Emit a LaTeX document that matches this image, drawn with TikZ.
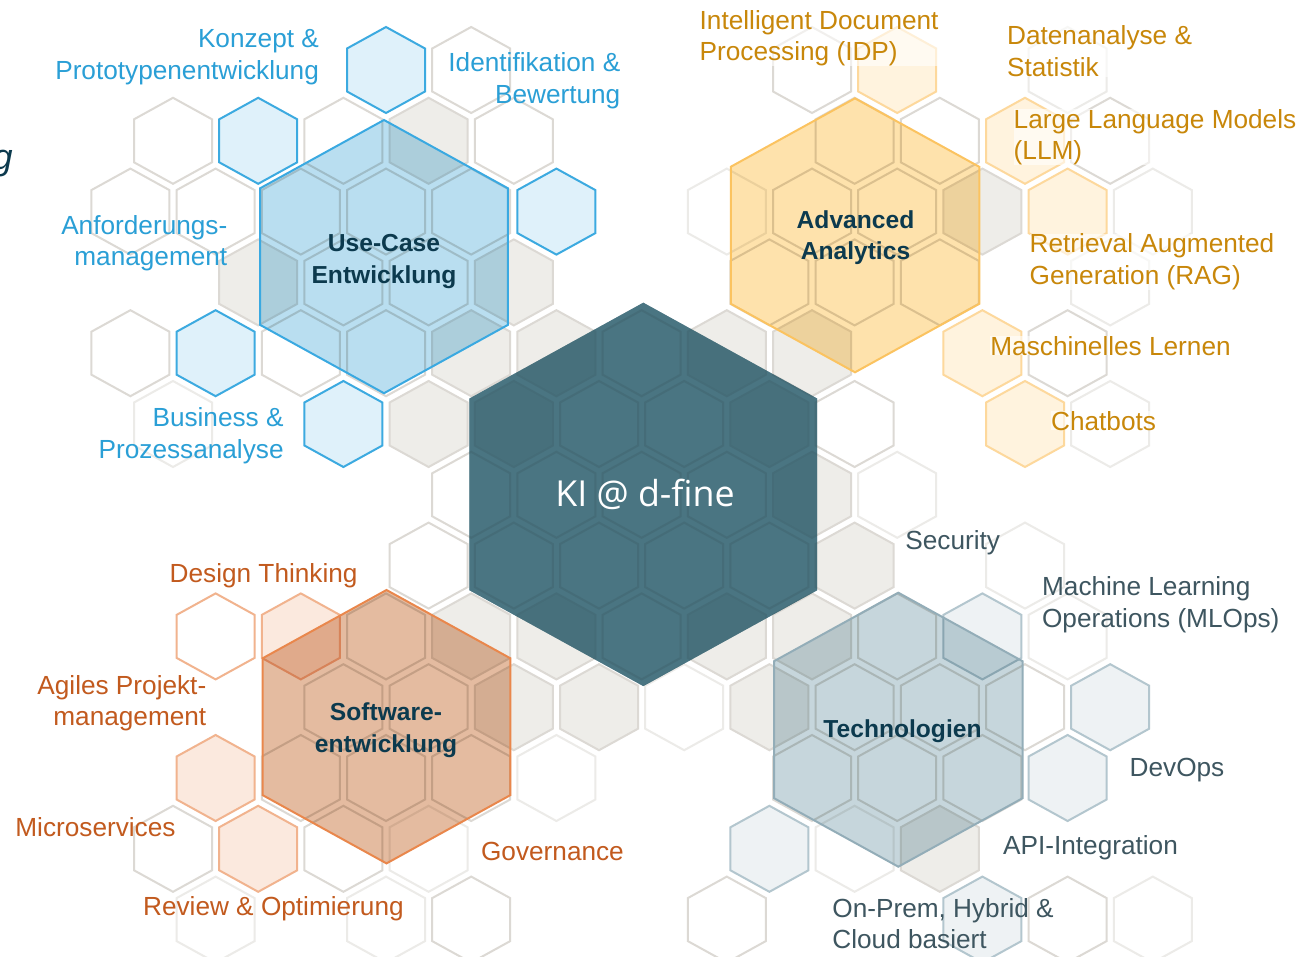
\documentclass[tikz,border=0pt]{standalone}
\usepackage{fontspec}
\setmainfont{Liberation Sans}
\newfontfamily\kifont{Open Sans}

\definecolor{gridN}{HTML}{DCD9D4}
\definecolor{gridF}{HTML}{ECEBE8}
\definecolor{gridG}{HTML}{EEEDE9}
\definecolor{cyanS}{HTML}{3CAAE0}
\definecolor{cyanF}{HTML}{DFF1FA}
\definecolor{goldS}{HTML}{FDD89C}
\definecolor{goldF}{HTML}{FFF3DE}
\definecolor{rustS}{HTML}{F1B38E}
\definecolor{rustF}{HTML}{FBE9DE}
\definecolor{slateS}{HTML}{B3C6CE}
\definecolor{slateF}{HTML}{EEF2F4}
\definecolor{ucF}{HTML}{B9DEF0}
\definecolor{ucS}{HTML}{3AA9E1}
\definecolor{aaF}{HTML}{FEE2AC}
\definecolor{aaS}{HTML}{FBC360}
\definecolor{swF}{HTML}{E4BBA0}
\definecolor{swS}{HTML}{E9874C}
\definecolor{tcF}{HTML}{C6D6DC}
\definecolor{tcS}{HTML}{93ADB8}
\definecolor{kiF}{HTML}{4A7582}
\definecolor{txBlue}{HTML}{2A9FD6}
\definecolor{txGold}{HTML}{C8870A}
\definecolor{txRust}{HTML}{C25A1E}
\definecolor{txSlate}{HTML}{3E5660}
\definecolor{txDark}{HTML}{0C3A4E}

\newcommand{\dfhex}[3]{(#1,#2) ++(0,-#3) -- ++({0.907*#3},{0.5*#3}) -- ++(0,#3) -- ++({-0.907*#3},{0.5*#3}) -- ++({-0.907*#3},{-0.5*#3}) -- ++(0,-#3) -- cycle}

\tikzset{
  cellN/.style={draw=gridN, line width=1pt},
  cellF/.style={draw=gridF, line width=1pt},
  cellG/.style={draw=gridN, fill=gridG, line width=1pt},
  cellC/.style={draw=cyanS, fill=cyanF, line width=1pt},
  cellA/.style={draw=goldS, fill=goldF, line width=1pt},
  cellR/.style={draw=rustS, fill=rustF, line width=1pt},
  cellRo/.style={draw=rustS, fill=white, line width=1pt},
  cellT/.style={draw=slateS, fill=slateF, line width=1pt},
  lbl/.style={inner sep=0pt, font=\fontsize{13.1}{15.8}\selectfont},
  lblR/.style={lbl, align=right, anchor=base east},
  lblL/.style={lbl, align=left, anchor=base west},
  goldbox/.style={fill=white, fill opacity=0.6, text opacity=1},
  head/.style={inner sep=0pt, align=center, anchor=base, text=txDark,
    font=\bfseries\fontsize{12.3}{15.8}\selectfont},
}

\begin{document}
\begin{tikzpicture}[x=0.5pt, y=-0.5pt]
\useasboundingbox (0,0) rectangle (1301,957);
\fill[white] (0,0) rectangle (1301,957);

% ---- background honeycomb ----
\foreach \x/\y in {471.2/70, 812/70,
  173/140.8, 343.4/140.8, 513.8/140.8, 854.6/140.8, 939.8/140.8, 1110.2/140.8,
  130.4/211.6, 215.6/211.6, 300.8/211.6, 386/211.6, 471.2/211.6, 812/211.6, 897.2/211.6,
  343.4/282.4, 428.6/282.4, 769.4/282.4, 854.6/282.4, 939.8/282.4,
  130.4/353.2, 300.8/353.2, 386/353.2, 641.6/353.2, 1067.6/353.2,
  599/424, 684.2/424, 854.6/424,
  471.2/494.8, 556.4/494.8, 641.6/494.8, 726.8/494.8,
  428.6/565.6, 513.8/565.6, 599/565.6, 684.2/565.6, 769.4/565.6,
  386/636.4, 641.6/636.4, 897.2/636.4,
  343.4/707.2, 428.6/707.2, 854.6/707.2, 939.8/707.2, 1025/707.2,
  300.8/778, 386/778, 471.2/778, 812/778, 897.2/778, 982.4/778,
  173/848.8, 343.4/848.8,
  471.2/919.6, 726.8/919.6, 1067.6/919.6}
  \draw[cellN] \dfhex{\x}{\y}{43};

\foreach \x/\y in {1067.6/70, 726.8/211.6, 1152.8/211.6, 1110.2/282.4, 173/424,
  1110.2/424, 897.2/494.8, 1025/565.6, 1067.6/636.4, 684.2/707.2, 556.4/778,
  428.6/848.8, 854.6/848.8, 215.6/919.6, 386/919.6, 1152.8/919.6}
  \draw[cellF] \dfhex{\x}{\y}{43};

\foreach \x/\y in {428.6/140.8, 982.4/211.6, 258.2/282.4, 513.8/282.4, 471.2/353.2,
  556.4/353.2, 726.8/353.2, 812/353.2, 428.6/424, 513.8/424, 769.4/424, 812/494.8,
  854.6/565.6, 471.2/636.4, 556.4/636.4, 726.8/636.4, 812/636.4, 513.8/707.2,
  599/707.2, 769.4/707.2, 939.8/848.8}
  \draw[cellG] \dfhex{\x}{\y}{43};

\foreach \x/\y in {386/70, 258.2/140.8, 556.4/211.6, 215.6/353.2, 343.4/424}
  \draw[cellC] \dfhex{\x}{\y}{43};

\foreach \x/\y in {897.2/70, 1025/140.8, 1067.6/211.6, 982.4/353.2, 1025/424}
  \draw[cellA] \dfhex{\x}{\y}{43};

\foreach \x/\y in {300.8/636.4, 215.6/778, 258.2/848.8}
  \draw[cellR] \dfhex{\x}{\y}{43};
\draw[cellRo] \dfhex{215.6}{636.4}{43};

\foreach \x/\y in {982.4/636.4, 1110.2/707.2, 1067.6/778, 769.4/848.8, 982.4/919.6}
  \draw[cellT] \dfhex{\x}{\y}{43};

% ---- big hexagons (multiply over the comb) ----
\begin{scope}[blend mode=multiply]
  \fill[ucF] \dfhex{384}{256.6}{136.6};
  \fill[aaF] \dfhex{855}{235.3}{137};
  \fill[swF] \dfhex{386.5}{726.7}{136.7};
  \fill[tcF] \dfhex{898.3}{729.7}{137};
  \fill[kiF] \dfhex{643.3}{494.4}{191.7};
\end{scope}
\fill[kiF, fill opacity=0.55] \dfhex{643.3}{494.4}{191.7};
\draw[ucS, line width=1pt] \dfhex{384}{256.6}{136.6};
\draw[aaS, line width=1pt] \dfhex{855}{235.3}{137};
\draw[swS, line width=1pt] \dfhex{386.5}{726.7}{136.7};
\draw[tcS, line width=1pt] \dfhex{898.3}{729.7}{137};

% ---- headings ----
\node[head] (uc) at (384,283.3) {Use-Case\\Entwicklung};
\node[head] (aa) at (855.5,259.9) {Advanced\\Analytics};
\node[head] (sw) at (386,752.3) {Software-\\entwicklung};
\node[head] (tc) at (902.5,737.3) {Technologien};
\node[inner sep=0pt, anchor=base, text=white, font=\kifont\fontsize{17.9}{20}\selectfont] (ki) at (645,506.7) {KI @ d-fine};
\node[inner sep=0pt, anchor=base east, text=txDark, font=\itshape\fontsize{18}{20}\selectfont] (gcut) at (13,170) {g};

% ---- blue labels ----
\node[lblR, text=txBlue] (konzept) at (319.3,79.3) {Konzept \&\\Prototypenentwicklung};
\node[lblR, text=txBlue] (ident) at (620.7,103.3) {Identifikation \&\\Bewertung};
\node[lblR, text=txBlue] (anf) at (227.7,265.9) {Anforderungs-\\management};
\node[lblR, text=txBlue] (bus) at (284,458.3) {Business \&\\Prozessanalyse};

% ---- gold labels ----
\node[lblL, goldbox, text=txGold] (idp) at (699.3,60.9) {Intelligent Document\\Processing (IDP)};
\node[lblL, goldbox, text=txGold] (daten) at (1006.7,76.6) {Datenanalyse \&\\Statistik};
\node[lblL, goldbox, text=txGold] (llm) at (1013.3,159.9) {Large Language Models\\(LLM)};
\node[lblL, goldbox, text=txGold] (rag) at (1029.3,284.3) {Retrieval Augmented\\Generation (RAG)};
\node[lblL, goldbox, text=txGold] (ml) at (990,355) {Maschinelles Lernen};
\node[lblL, goldbox, text=txGold] (chat) at (1050.7,430) {Chatbots};

% ---- slate labels ----
\node[lblL, text=txSlate] (sec) at (905,549) {Security};
\node[lblL, text=txSlate] (mlops) at (1041.7,627.3) {Machine Learning\\Operations (MLOps)};
\node[lblL, text=txSlate] (devops) at (1129.3,776) {DevOps};
\node[lblL, text=txSlate] (api) at (1002.7,854) {API-Integration};
\node[lblL, text=txSlate] (onprem) at (832,948.9) {On-Prem, Hybrid \&\\Cloud basiert};

% ---- rust labels ----
\node[lblL, text=txRust] (design) at (169.3,582.7) {Design Thinking};
\node[lblR, text=txRust] (agil) at (206.7,725.6) {Agiles Projekt-\\management};
\node[lblL, text=txRust] (micro) at (15,836.7) {Microservices};
\node[lblL, text=txRust] (review) at (142.7,915) {Review \& Optimierung};
\node[lblL, text=txRust] (gov) at (480.7,860.7) {Governance};
\end{tikzpicture}
\end{document}
